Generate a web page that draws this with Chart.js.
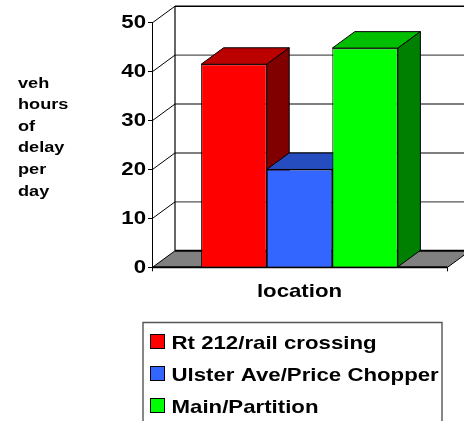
<!DOCTYPE html>
<html>
<head>
<meta charset="utf-8">
<style>html,body{margin:0;padding:0;background:#fff;overflow:hidden}canvas{display:block}</style>
<script src="https://cdn.jsdelivr.net/npm/chart.js@4"></script>
</head>
<body>
<canvas id="c" width="464" height="421" style="width:464px;height:421px"></canvas>
<script>
const categories = ['location'];
const seriesNames = ['Rt 212/rail crossing', 'Ulster Ave/Price Chopper', 'Main/Partition'];
const seriesValues = [41.5, 20, 44.8];
const frontColors = ['#ff0000', '#3366ff', '#00ff00'];
const topColors = ['#bb0000', '#264dbf', '#00bf00'];
const sideColors = ['#800000', '#1a3380', '#008000'];
const yTitleLines = ['veh', 'hours', 'of', 'delay', 'per', 'day'];
const xTitle = 'location';
const DX = 22.5, DY = 16.5, STRETCH = 1.17;
const FONT = 'Liberation Sans, Arial, sans-serif';

const canvas = document.getElementById('c');
const ctx0 = canvas.getContext('2d');
const rawFill = ctx0.fillText;
ctx0.fillText = function (t, x, y, m) {
  this.save(); this.translate(x, y); this.scale(STRETCH, 1);
  rawFill.call(this, t, 0, 0); this.restore();
};

function poly(ctx, pts, fill, stroke, lw) {
  ctx.beginPath();
  pts.forEach((p, i) => i ? ctx.lineTo(p[0], p[1]) : ctx.moveTo(p[0], p[1]));
  ctx.closePath();
  if (fill) { ctx.fillStyle = fill; ctx.fill(); }
  if (stroke) { ctx.strokeStyle = stroke; ctx.lineWidth = lw || 1; ctx.stroke(); }
}
function line(ctx, a, b, c, d, col, lw) {
  ctx.beginPath(); ctx.moveTo(a, b); ctx.lineTo(c, d);
  ctx.strokeStyle = col; ctx.lineWidth = lw || 1; ctx.stroke();
}

const box3d = {
  id: 'box3d',
  beforeDatasetsDraw(chart) {
    const ctx = chart.ctx, y = chart.scales.y, a = chart.chartArea;
    const L = a.left + 0.5, R = a.right + 0.5, B = y.getPixelForValue(0), T = y.getPixelForValue(50);
    ctx.save();
    poly(ctx, [[L, B], [L + DX, B - DY], [R + DX, B - DY], [R, B]], '#808080');
    y.ticks.forEach(t => {
      const py = y.getPixelForValue(t.value);
      if (t.value > 0 && t.value < 50) line(ctx, L + DX, py - DY, R + DX, py - DY, '#555', 1.4);
      if (t.value > 0) line(ctx, L, py, L + DX, py - DY, '#000', 1);
    });
    line(ctx, L + DX, T - DY, R + DX, T - DY, '#000', 1.4);
    line(ctx, L + DX, T - DY, L + DX, B - DY, '#000', 1.2);
    line(ctx, L, B, L + DX, B - DY, '#000', 1);
    line(ctx, L + DX, B - DY, R + DX, B - DY, '#000', 2);
    line(ctx, L, B, R, B, '#000', 2);
    line(ctx, R, B, R + DX, B - DY, '#000', 1);
    chart.data.datasets.forEach((ds, i) => {
      const bar = chart.getDatasetMeta(i).data[0];
      const l = bar.x - bar.width / 2, r = bar.x + bar.width / 2, t = bar.y, b = bar.base;
      poly(ctx, [[l, t], [l + DX, t - DY], [r + DX, t - DY], [r, t]], topColors[i], '#000', 1);
      poly(ctx, [[r, t], [r + DX, t - DY], [r + DX, b - DY], [r, b]], sideColors[i], '#000', 1);
    });
    ctx.restore();
  },
  afterDraw(chart) {
    const ctx = chart.ctx;
    ctx.save();
    ctx.fillStyle = '#000';
    ctx.textAlign = 'left';
    ctx.textBaseline = 'alphabetic';
    ctx.font = 'bold 15.5px ' + FONT;
    yTitleLines.forEach((s, i) => ctx.fillText(s, 18, 87.5 + i * 21.6));
    poly(ctx, [[143, 322.5], [442, 322.5], [442, 440], [143, 440]], null, '#555', 1.4);
    ctx.font = 'bold 19px ' + FONT;
    chart.data.datasets.forEach((ds, i) => {
      const by = 349 + i * 32;
      ctx.fillStyle = frontColors[i];
      ctx.fillRect(150.5, by - 14.5, 14, 14);
      ctx.strokeStyle = '#000'; ctx.lineWidth = 1;
      ctx.strokeRect(150.5, by - 14.5, 14, 14);
      ctx.fillStyle = '#000';
      ctx.fillText(ds.label, 171.5, by);
    });
    ctx.restore();
  }
};

new Chart(canvas, {
  type: 'bar',
  plugins: [box3d],
  data: {
    labels: categories,
    datasets: seriesNames.map((n, i) => ({
      label: n,
      data: [seriesValues[i]],
      backgroundColor: frontColors[i],
      borderColor: '#000',
      borderWidth: 1
    }))
  },
  options: {
    responsive: false,
    animation: false,
    events: [],
    categoryPercentage: 0.667,
    barPercentage: 1,
    layout: { padding: { left: 0, right: 17, top: 22.7, bottom: 117.7 } },
    plugins: { legend: { display: false }, tooltip: { enabled: false }, title: { display: false } },
    scales: {
      x: {
        afterFit: s => { s.height = 36; },
        border: { display: false },
        grid: { drawOnChartArea: false, color: '#000', tickLength: 4 },
        ticks: { callback: () => '', padding: 0 },
        title: { display: true, text: xTitle, color: '#000', font: { family: FONT, size: 19, weight: 'bold' }, padding: 0 }
      },
      y: {
        min: 0, max: 50,
        afterFit: s => { s.width = 152; },
        border: { display: true, color: '#000', width: 1 },
        grid: { drawOnChartArea: false, color: '#000', tickLength: 4 },
        ticks: { stepSize: 10, color: '#000', padding: 2, font: { family: FONT, size: 19, weight: 'bold' } }
      }
    }
  }
});
</script>
</body>
</html>
